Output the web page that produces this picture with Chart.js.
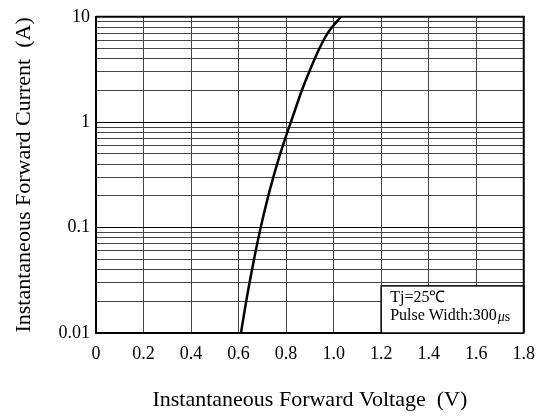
<!DOCTYPE html>
<html>
<head>
<meta charset="utf-8">
<script src="https://cdn.jsdelivr.net/npm/chart.js@4"></script>
<style>
  body { margin: 0; background: #fff; }
</style>
</head>
<body>
<canvas id="ivChart" width="545" height="417"></canvas>
<script>
// forward curve
const voltage = [0.610, 0.632, 0.646, 0.665, 0.693, 0.725, 0.746, 0.775, 0.796, 0.820, 0.866, 0.897, 0.940, 0.975, 1.031];
const current = [0.01, 0.02, 0.03, 0.05, 0.1, 0.2, 0.3, 0.5, 0.7, 1, 2, 3, 5, 7, 10];

const xTicks = [0, 0.2, 0.4, 0.6, 0.8, 1.0, 1.2, 1.4, 1.6, 1.8];
const yGrid = [0.01, 0.02, 0.03, 0.04, 0.05, 0.06, 0.07, 0.08, 0.09,
               0.1, 0.2, 0.3, 0.4, 0.5, 0.6, 0.7, 0.8, 0.9,
               1, 2, 3, 4, 5, 6, 7, 8, 9, 10];
const yLabels = { 0.01: '0.01', 0.1: '0.1', 1: '1', 10: '10' };

const noteLines = ['Tj=25\u2103', 'Pulse Width:300'];
const noteAnchor = { x: 1.2, y: 0.028 };

const serif = "'Liberation Serif', 'Times New Roman', serif";

function isDecade(v) {
    return Math.abs(Math.log10(v) - Math.round(Math.log10(v))) < 1e-9;
}

const frameAndNote = {
    id: 'frameAndNote',
    afterDatasetsDraw(chart) {
        const ctx = chart.ctx;
        const area = chart.chartArea;
        const xs = chart.scales.x, ys = chart.scales.y;
        ctx.save();
        // note box
        const bx = xs.getPixelForValue(noteAnchor.x);
        const by = ys.getPixelForValue(noteAnchor.y);
        ctx.fillStyle = '#fff';
        ctx.fillRect(bx, by, area.right - bx, area.bottom - by);
        ctx.strokeStyle = '#000';
        ctx.lineWidth = 1.5;
        ctx.strokeRect(bx, by, area.right - bx, area.bottom - by);
        ctx.fillStyle = '#000';
        ctx.textBaseline = 'middle';
        ctx.font = '16px ' + serif;
        ctx.fillText(noteLines[0], bx + 9, by + 12);
        ctx.fillText(noteLines[1], bx + 9, by + 30);
        let w = ctx.measureText(noteLines[1]).width;
        ctx.font = 'italic 14px ' + serif;
        ctx.fillText('\u03bc', bx + 10 + w, by + 31);
        let w2 = ctx.measureText('\u03bc').width;
        ctx.font = '14px ' + serif;
        ctx.fillText('s', bx + 10 + w + w2, by + 31);
        // top and right frame
        ctx.lineWidth = 2;
        ctx.beginPath();
        ctx.moveTo(area.left, area.top);
        ctx.lineTo(area.right, area.top);
        ctx.lineTo(area.right, area.bottom);
        ctx.stroke();
        ctx.restore();
    }
};

const ctx = document.getElementById('ivChart').getContext('2d');
const myChart = new Chart(ctx, {
    type: 'line',
    data: {
        datasets: [{
            data: voltage.map((v, i) => ({ x: v, y: current[i] })),
            borderColor: '#000',
            borderWidth: 2.5,
            pointRadius: 0,
            cubicInterpolationMode: 'monotone',
            fill: false
        }]
    },
    options: {
        responsive: false,
        animation: false,
        layout: { padding: { top: 13, right: 16, left: 0, bottom: 0 } },
        plugins: { legend: { display: false }, tooltip: { enabled: false } },
        scales: {
            x: {
                type: 'linear',
                min: 0,
                max: 1.8,
                afterBuildTicks: (axis) => { axis.ticks = xTicks.map(v => ({ value: v })); },
                afterFit: (axis) => { axis.height = 84; },
                ticks: {
                    autoSkip: false,
                    maxRotation: 0,
                    padding: 10,
                    color: '#000',
                    font: { family: serif, size: 18 },
                    callback: (v) => v === 0 ? '0' : Number(v).toFixed(1)
                },
                grid: { color: '#444', lineWidth: 1, drawTicks: false },
                border: { color: '#000', width: 2 },
                title: {
                    display: true,
                    text: 'Instantaneous Forward Voltage  (V)',
                    color: '#000',
                    font: { family: serif, size: 22 },
                    padding: { top: 0, bottom: 4 }
                }
            },
            y: {
                type: 'logarithmic',
                min: 0.01,
                max: 10,
                afterBuildTicks: (axis) => { axis.ticks = yGrid.map(v => ({ value: v, major: isDecade(v) })); },
                afterFit: (axis) => { axis.width = 96; },
                ticks: {
                    autoSkip: false,
                    padding: 6,
                    color: '#000',
                    font: { family: serif, size: 18 },
                    callback: (v) => yLabels[v] || ''
                },
                grid: {
                    color: (c) => (c.tick && isDecade(c.tick.value)) ? '#000' : '#444',
                    lineWidth: 1,
                    drawTicks: false
                },
                border: { color: '#000', width: 2 },
                title: {
                    display: true,
                    text: 'Instantaneous Forward Current  (A)',
                    color: '#000',
                    font: { family: serif, size: 22 },
                    padding: { top: 11, bottom: 0 }
                }
            }
        }
    },
    plugins: [frameAndNote]
});
</script>
</body>
</html>
